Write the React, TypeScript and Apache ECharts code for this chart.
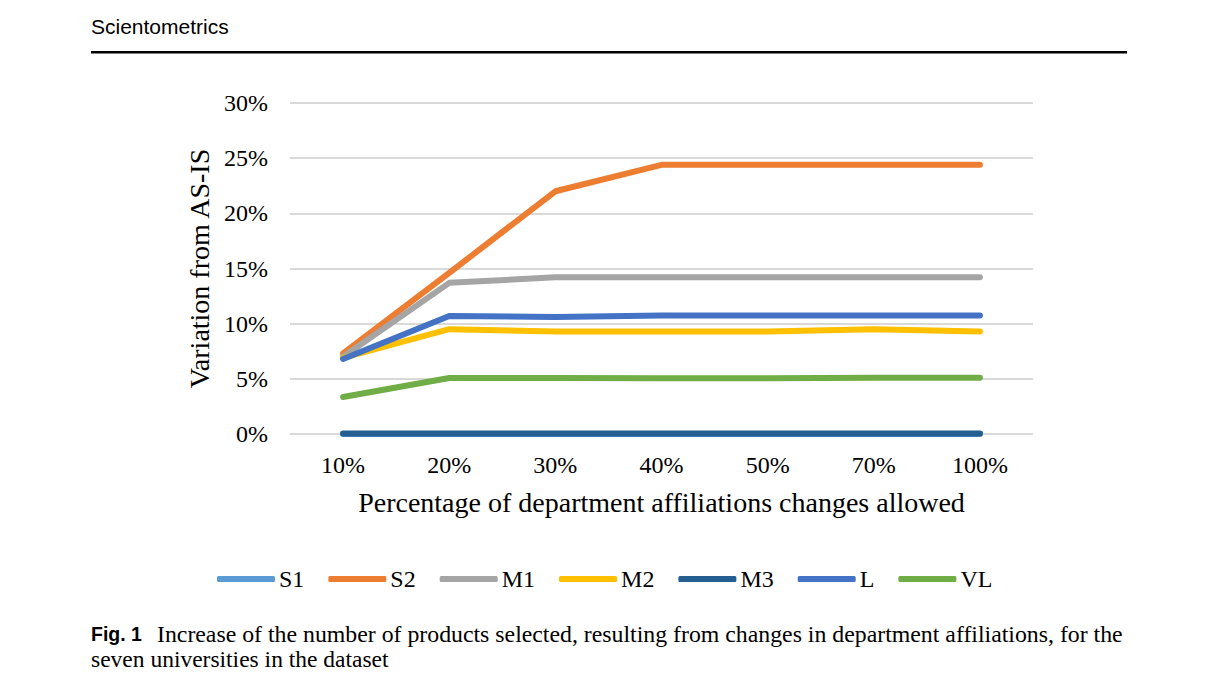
import React, { useEffect, useRef } from "react";
import * as echarts from "echarts";

const categories = ["10%", "20%", "30%", "40%", "50%", "70%", "100%"];
const seriesNames = ["S1", "S2", "M1", "M2", "M3", "L", "VL"];
const s1 = [0, 0, 0, 0, 0, 0, 0];
const s2 = [7.3, 14.6, 22.0, 24.4, 24.4, 24.4, 24.4];
const m1 = [7.0, 13.7, 14.2, 14.2, 14.2, 14.2, 14.2];
const m2 = [6.9, 9.5, 9.3, 9.3, 9.3, 9.5, 9.3];
const m3 = [0.05, 0.05, 0.05, 0.05, 0.05, 0.05, 0.05];
const lv = [6.8, 10.7, 10.6, 10.75, 10.75, 10.75, 10.75];
const vl = [3.35, 5.07, 5.07, 5.05, 5.05, 5.1, 5.1];
const colors = ["#5B9BD5", "#ED7D31", "#A5A5A5", "#FFC000", "#255E91", "#4472C4", "#70AD47"];
const yTicks = { min: 0, max: 30, interval: 5 };

const SERIF = "'Liberation Serif', 'Times New Roman', serif";
const SANS = "'Liberation Sans', Arial, sans-serif";

export default function App() {
  const ref = useRef<HTMLDivElement>(null);
  useEffect(() => {
    if (!ref.current) return;
    const chart = echarts.init(ref.current, null, { renderer: "svg" });
    const data = [s1, s2, m1, m2, m3, lv, vl];
    chart.setOption({
      animation: false,
      backgroundColor: "#ffffff",
      grid: { left: 290, right: 185, top: 103, bottom: 248, containLabel: false },
      xAxis: {
        type: "category",
        data: categories,
        boundaryGap: true,
        axisLine: { show: false },
        axisTick: { show: false },
        axisLabel: { fontFamily: SERIF, fontSize: 24, color: "#000", margin: 19 },
        name: "Percentage of department affiliations changes allowed",
        nameLocation: "middle",
        nameGap: 54,
        nameTextStyle: { fontFamily: SERIF, fontSize: 28, color: "#000" },
      },
      yAxis: {
        type: "value",
        min: yTicks.min,
        max: yTicks.max,
        interval: yTicks.interval,
        axisLine: { show: false },
        axisTick: { show: false },
        axisLabel: { fontFamily: SERIF, fontSize: 24, color: "#000", margin: 22, formatter: "{value}%" },
        splitLine: { lineStyle: { color: "#d9d9d9", width: 2 } },
        name: "Variation from AS-IS",
        nameLocation: "middle",
        nameGap: 76,
        nameRotate: 90,
        nameTextStyle: { fontFamily: SERIF, fontSize: 28, color: "#000" },
      },
      legend: {
        left: 212,
        top: 562,
        icon: "roundRect",
        itemWidth: 58,
        itemHeight: 6,
        itemGap: 24,
        textStyle: { fontFamily: SERIF, fontSize: 24, color: "#000", padding: [0, 0, 0, -1] },
        data: seriesNames,
      },
      series: seriesNames.map((n, i) => ({
        name: n,
        type: "line",
        data: data[i],
        showSymbol: false,
        symbol: "none",
        color: colors[i],
        lineStyle: { width: 6, color: colors[i], cap: "round", join: "round" },
      })),
      graphic: [
        { type: "text", left: 91, top: 16, style: { text: "Scientometrics", font: `21px ${SANS}`, fill: "#000" } },
        { type: "rect", shape: { x: 91, y: 51, width: 1036, height: 2.5 }, style: { fill: "#000" } },
        { type: "text", left: 91, top: 624, style: { text: "Fig. 1", font: `bold 19.5px ${SANS}`, fill: "#000" } },
        {
          type: "text",
          left: 157,
          top: 622,
          style: {
            text: "Increase of the number of products selected, resulting from changes in department affiliations, for the",
            font: `23.8px ${SERIF}`,
            fill: "#000",
          },
        },
        {
          type: "text",
          left: 91,
          top: 647,
          style: { text: "seven universities in the dataset", font: `23.5px ${SERIF}`, fill: "#000" },
        },
      ],
    });
    return () => chart.dispose();
  }, []);
  return <div ref={ref} style={{ position: "absolute", left: 0, top: 0, width: 1218, height: 682 }} />;
}
